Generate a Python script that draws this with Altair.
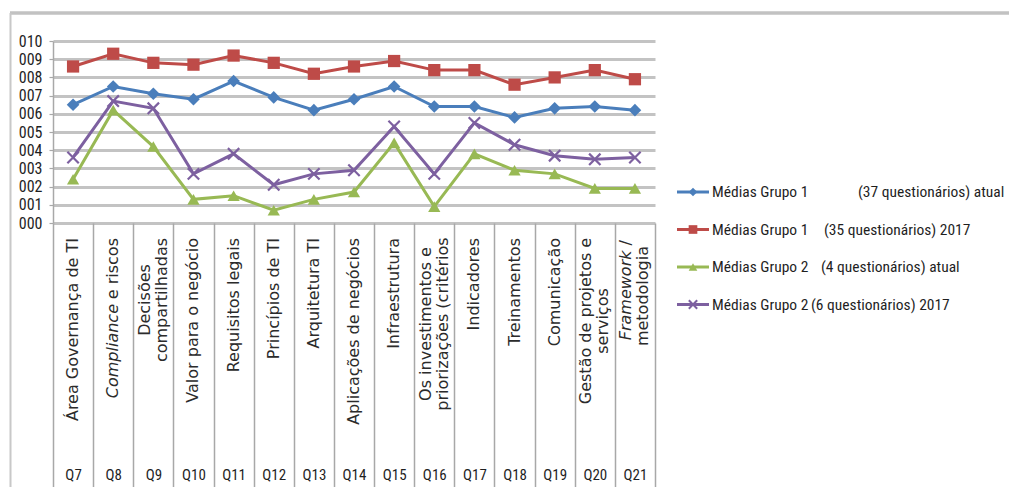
import altair as alt
import pandas as pd

# ---- data -------------------------------------------------------------
codes = ["Q7", "Q8", "Q9", "Q10", "Q11", "Q12", "Q13", "Q14",
         "Q15", "Q16", "Q17", "Q18", "Q19", "Q20", "Q21"]

topics = [
    "Área Governança de TI",
    "Compliance e riscos",
    "Decisões\ncompartilhadas",
    "Valor para o negócio",
    "Requisitos legais",
    "Princípios de TI",
    "Arquitetura TI",
    "Aplicações de negócios",
    "Infraestrutura",
    "Os investimentos e\npriorizações (critérios",
    "Indicadores",
    "Treinamentos",
    "Comunicação",
    "Gestão de projetos e\nserviços",
    "Framework /\nmetodologia",
]

g1_atual = [6.5, 7.5, 7.1, 6.8, 7.8, 6.9, 6.2, 6.8, 7.5, 6.4, 6.4, 5.8, 6.3, 6.4, 6.2]
g1_2017 = [8.6, 9.3, 8.8, 8.7, 9.2, 8.8, 8.2, 8.6, 8.9, 8.4, 8.4, 7.6, 8.0, 8.4, 7.9]
g2_atual = [2.4, 6.2, 4.2, 1.3, 1.5, 0.7, 1.3, 1.7, 4.4, 0.9, 3.8, 2.9, 2.7, 1.9, 1.9]
g2_2017 = [3.6, 6.7, 6.3, 2.7, 3.8, 2.1, 2.7, 2.9, 5.3, 2.7, 5.5, 4.3, 3.7, 3.5, 3.6]

legend_names = ["Médias Grupo 1", "Médias Grupo 1", "Médias Grupo 2", "Médias Grupo 2"]
legend_notes = ["(37 questionários) atual", "(35 questionários) 2017",
                "(4 questionários) atual", "(6 questionários) 2017"]

y_ticks = list(range(0, 11))

# ---- styling ----------------------------------------------------------
colors = ["#4A7EBB", "#BE4B48", "#98B954", "#7D60A0"]
shapes = ["diamond", "square", "triangle-up", "M-1,-1L1,1M-1,1L1,-1"]
marker_sizes = [160, 150, 150, 130]

NARROW = "Liberation Sans Narrow, Roboto Condensed, Roboto, sans-serif"
WIDE = "DejaVu Sans, Verdana, sans-serif"
TEXT = "#1f1f1f"
CAT_TEXT = "#2b2b2b"
CAT_SIZE = 16
LINE_H = 17

PLOT_W, PLOT_H = 602, 182
OX, OY = 53, 41            # page position of the plot origin
PAGE_W, PAGE_H = 1009, 487

series_keys = [f"{n} {t}" for n, t in zip(legend_names, legend_notes)]
series_vals = [g1_atual, g1_2017, g2_atual, g2_2017]

rows = []
for key, vals in zip(series_keys, series_vals):
    for c, v in zip(codes, vals):
        rows.append({"code": c, "value": v, "series": key})
df = pd.DataFrame(rows)
topic_df = pd.DataFrame({"code": codes, "topic": topics})
one = pd.DataFrame({"k": [0]})

x_axis = alt.Axis(
    title=None, domain=False, grid=False, ticks=True, tickBand="extent",
    tickSize=PAGE_H - (OY + PLOT_H) + 2, tickColor="#a8a8a8", tickWidth=1.5,
    labelAngle=0, labelBaseline="middle", labelPadding=-15,
    labelFont=NARROW, labelFontSize=15, labelColor=TEXT,
)
y_axis = alt.Axis(
    title=None, values=y_ticks, format="03d",
    grid=True, gridColor="#c3c3c3", gridWidth=3,
    domain=True, domainColor="#a8a8a8", domainWidth=1.5,
    ticks=True, tickColor="#a8a8a8", tickSize=4, tickWidth=1.2,
    labelPadding=7, labelFont=NARROW, labelFontSize=16, labelColor=TEXT,
)

x_scale = alt.Scale(type="band", domain=codes, paddingInner=0, paddingOuter=0)
y_scale = alt.Scale(domain=[0, 10], nice=False, zero=True)


def X():
    return alt.X("code:N", scale=x_scale, axis=x_axis, bandPosition=0.5)


def Y():
    return alt.Y("value:Q", scale=y_scale, axis=y_axis)


def cat_text(data, align, y_page, text, dy=0, italic=False, multiline=False):
    props = dict(angle=270, align=align, baseline="middle", dy=dy,
                 font=WIDE, fontSize=CAT_SIZE, color=CAT_TEXT)
    if italic:
        props["fontStyle"] = "italic"
    if multiline:
        props["lineBreak"] = "\n"
        props["lineHeight"] = LINE_H
    return alt.Chart(data).mark_text(**props).encode(
        x=X(), y=alt.value(y_page - OY), text=text)


layers = []

# outer frame of the chart area
layers.append(
    alt.Chart(one).mark_rule(color="#c2c2c2", strokeWidth=3.5).encode(
        x=alt.value(10 - OX), x2=alt.value(PAGE_W - OX + 5), y=alt.value(13 - OY))
)
layers.append(
    alt.Chart(one).mark_rule(color="#c8c8c8", strokeWidth=2).encode(
        x=alt.value(10.5 - OX), y=alt.value(13 - OY), y2=alt.value(PAGE_H - OY + 5))
)

# series: line then its markers, in drawing order
for key, col, shp, sz in zip(series_keys, colors, shapes, marker_sizes):
    sdf = df[df["series"] == key]
    layers.append(
        alt.Chart(sdf).mark_line(color=col, strokeWidth=3).encode(x=X(), y=Y())
    )
    if shp.startswith("M"):
        pt = alt.Chart(sdf).mark_point(shape=shp, size=sz, filled=False,
                                       color=col, strokeWidth=2.2, opacity=1)
    else:
        pt = alt.Chart(sdf).mark_point(shape=shp, size=sz, filled=True,
                                       color=col, opacity=1)
    layers.append(pt.encode(x=X(), y=Y()))

# rotated category names under each column (top-aligned)
TOP = 238
single = topic_df[~topic_df["topic"].str.contains("\n")
                  & ~topic_df["code"].isin(["Q8", "Q21"])]
layers.append(cat_text(single, "right", TOP, "topic:N"))

# two-line names, centred as a block
block_centre = {"Q9": 300, "Q16": 324, "Q20": 321}
for code, yc in block_centre.items():
    sub = topic_df[topic_df["code"] == code]
    layers.append(cat_text(sub, "center", yc, "topic:N",
                           dy=-LINE_H / 2, multiline=True))

# names with an italic term
q8 = topic_df[topic_df["code"] == "Q8"]
layers.append(cat_text(q8, "right", TOP, alt.value(" e riscos")))
layers.append(cat_text(q8, "right", TOP + 66, alt.value("Compliance"), italic=True))

q21 = topic_df[topic_df["code"] == "Q21"]
layers.append(cat_text(q21, "right", TOP + 2, alt.value(" /"), dy=-LINE_H / 2))
layers.append(cat_text(q21, "right", TOP + 12.5, alt.value("Framework"),
                       dy=-LINE_H / 2, italic=True))
layers.append(cat_text(q21, "right", TOP + 8, alt.value("metodologia"),
                       dy=LINE_H / 2))

# legend, drawn as line + marker + text rows
legend_rows_y = [192, 229.5, 267, 304.5]
legend_note_x = [858, 824, 821, 811]
for i in range(4):
    ly = legend_rows_y[i] - OY
    layers.append(
        alt.Chart(one).mark_rule(color=colors[i], strokeWidth=3).encode(
            x=alt.value(677 - OX), x2=alt.value(709 - OX), y=alt.value(ly))
    )
    if shapes[i].startswith("M"):
        lp = alt.Chart(one).mark_point(shape=shapes[i], size=70, filled=False,
                                       color=colors[i], strokeWidth=2, opacity=1)
    else:
        lp = alt.Chart(one).mark_point(shape=shapes[i], size=75, filled=True,
                                       color=colors[i], opacity=1)
    layers.append(lp.encode(x=alt.value(693 - OX), y=alt.value(ly)))
    layers.append(
        alt.Chart(one).mark_text(align="left", baseline="middle", font=NARROW,
                                 fontSize=15.5, color=TEXT).encode(
            x=alt.value(712 - OX), y=alt.value(ly), text=alt.value(legend_names[i]))
    )
    layers.append(
        alt.Chart(one).mark_text(align="left", baseline="middle", font=NARROW,
                                 fontSize=15.5, color=TEXT).encode(
            x=alt.value(legend_note_x[i] - OX), y=alt.value(ly),
            text=alt.value(legend_notes[i]))
    )

chart = (
    alt.layer(*layers)
    .properties(
        width=PLOT_W, height=PLOT_H,
        autosize=alt.AutoSizeParams(type="none"),
        padding={"left": OX, "top": OY,
                 "right": PAGE_W - OX - PLOT_W, "bottom": PAGE_H - OY - PLOT_H},
        background="white",
    )
    .configure_view(strokeWidth=0)
)

chart.save("out.html", embed_options={"renderer": "svg", "actions": False})
